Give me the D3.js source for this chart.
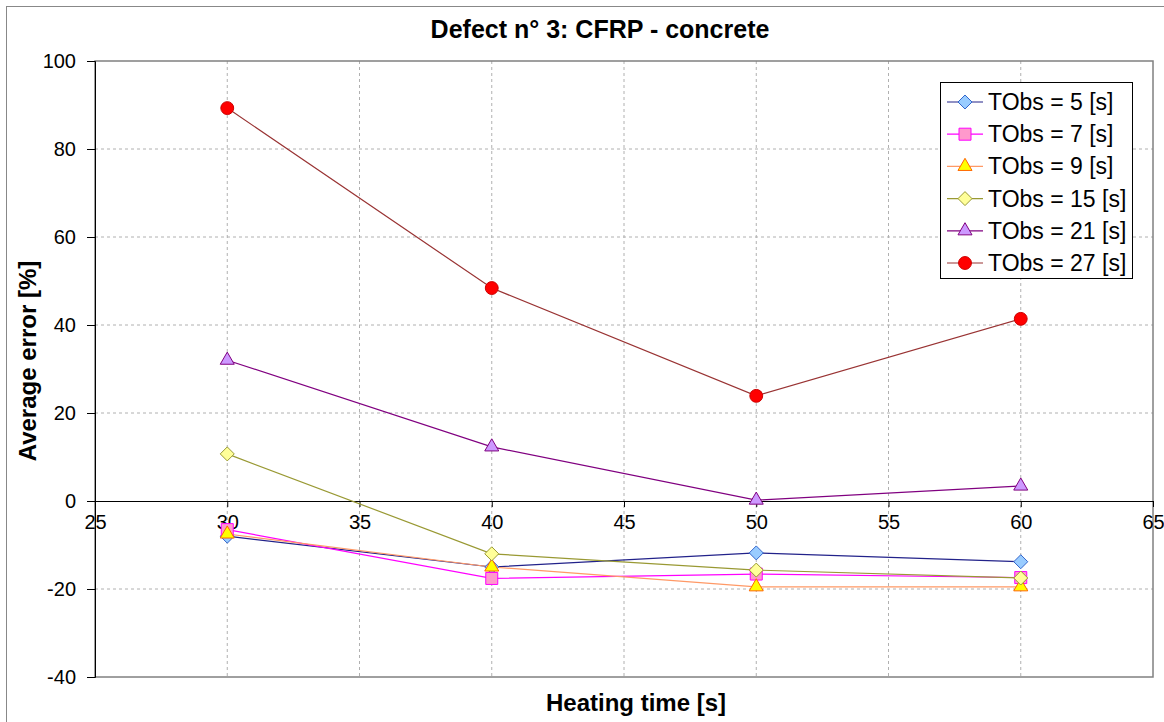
<!DOCTYPE html>
<html><head><meta charset="utf-8">
<script src="https://cdn.jsdelivr.net/npm/d3@7"></script>
<style>body{margin:0;background:#fff}svg{display:block;font-family:"Liberation Sans",Arial,sans-serif}</style>
</head><body>
<svg id="c" width="1164" height="722"></svg>
<script>
const heatingTimes = [30, 40, 50, 60];
const seriesNames = ["TObs = 5 [s]", "TObs = 7 [s]", "TObs = 9 [s]", "TObs = 15 [s]", "TObs = 21 [s]", "TObs = 27 [s]"];
const tobs5  = [-8.0, -15.0, -11.8, -13.8];
const tobs7  = [-6.5, -17.6, -16.6, -17.4];
const tobs9  = [-7.5, -15.0, -19.5, -19.5];
const tobs15 = [10.7, -12.0, -15.7, -17.5];
const tobs21 = [32.0, 12.3, 0.2, 3.4];
const tobs27 = [89.3, 48.4, 23.9, 41.4];
const xTicks = [25, 30, 35, 40, 45, 50, 55, 60, 65];
const yTicks = [-40, -20, 0, 20, 40, 60, 80, 100];

const squareDiamond = {
  draw(ctx, size) {
    const h = Math.sqrt(size / 2);
    ctx.moveTo(0, -h); ctx.lineTo(h, 0); ctx.lineTo(0, h); ctx.lineTo(-h, 0); ctx.closePath();
  }
};

const styles = [
  {line:"#22228a", fill:"#99ccff", stroke:"#3366cc", sym:squareDiamond, size:98},
  {line:"#ff00ff", fill:"#ff99cc", stroke:"#ff00ff", sym:d3.symbolSquare, size:144},
  {line:"#ff9966", fill:"#ffff00", stroke:"#ff6600", sym:d3.symbolTriangle, size:85},
  {line:"#999933", fill:"#ffff99", stroke:"#999933", sym:squareDiamond, size:98},
  {line:"#800080", fill:"#cc99ff", stroke:"#800080", sym:d3.symbolTriangle, size:85},
  {line:"#993333", fill:"#ff0000", stroke:"#cc0000", sym:d3.symbolCircle, size:130}
];
const allSeries = [tobs5, tobs7, tobs9, tobs15, tobs21, tobs27];

const svg = d3.select("#c");
const L = 95, R = 1153, T = 61, B = 677;
const x = d3.scaleLinear().domain([25, 65]).range([L, R]);
const y = d3.scaleLinear().domain([-40, 100]).range([B, T]);
const fmt = d => String(d);

// outer frame
svg.append("rect").attr("x",6.5).attr("y",6.5).attr("width",1170).attr("height",730)
  .attr("fill","none").attr("stroke","#888").attr("stroke-width",1);

// grid
svg.append("g").selectAll("line").data(xTicks.filter(d=>d>25&&d<65)).join("line")
  .attr("x1",d=>x(d)).attr("x2",d=>x(d)).attr("y1",T).attr("y2",B)
  .attr("stroke","#b0b0b0").attr("stroke-dasharray","3,3");
svg.append("g").selectAll("line").data(yTicks.filter(d=>d>-40&&d<100&&d!==0)).join("line")
  .attr("x1",L).attr("x2",R).attr("y1",d=>y(d)).attr("y2",d=>y(d))
  .attr("stroke","#b0b0b0").attr("stroke-dasharray","3,3");

// plot area border
svg.append("rect").attr("x",L).attr("y",T).attr("width",R-L).attr("height",B-T)
  .attr("fill","none").attr("stroke","#808080").attr("stroke-width",1.5);

// y axis
const yAxis = svg.append("g").attr("transform",`translate(${L},0)`)
  .call(d3.axisLeft(y).tickValues(yTicks).tickFormat(fmt).tickSize(8).tickPadding(11));
yAxis.select(".domain").attr("stroke","#000");
yAxis.selectAll("text").attr("font-size",20).attr("fill","#000");

// x axis at y=0
const xAxis = svg.append("g").attr("transform",`translate(0,${y(0)})`)
  .call(d3.axisBottom(x).tickValues(xTicks).tickFormat(fmt).tickSize(6).tickPadding(8).tickSizeOuter(0));
xAxis.select(".domain").attr("stroke","#000");
xAxis.selectAll("text").attr("font-size",20).attr("fill","#000");

// lines
const lineGen = d3.line().x((d,i)=>x(heatingTimes[i])).y(d=>y(d));
allSeries.forEach((s,k)=>{
  svg.append("path").attr("d",lineGen(s)).attr("fill","none")
    .attr("stroke",styles[k].line).attr("stroke-width",1.2);
});
allSeries.forEach((s,k)=>{
  const st = styles[k];
  svg.append("g").selectAll("path").data(s).join("path")
    .attr("transform",(d,i)=>`translate(${x(heatingTimes[i])},${y(d)})`)
    .attr("d",d3.symbol().type(st.sym).size(st.size))
    .attr("fill",st.fill).attr("stroke",st.stroke).attr("stroke-width",1);
});

// title & labels
svg.append("text").attr("x",600).attr("y",38).attr("text-anchor","middle")
  .attr("font-size",25).attr("font-weight","bold").text("Defect n° 3: CFRP - concrete");
svg.append("text").attr("x",636).attr("y",711).attr("text-anchor","middle")
  .attr("font-size",24).attr("font-weight","bold").text("Heating time [s]");
svg.append("text").attr("transform",`translate(36,361) rotate(-90)`).attr("text-anchor","middle")
  .attr("font-size",24).attr("font-weight","bold").text("Average error [%]");

// legend
const lg = svg.append("g");
lg.append("rect").attr("x",940.5).attr("y",82.5).attr("width",192).attr("height",196)
  .attr("fill","#fff").attr("stroke","#000").attr("stroke-width",1);
seriesNames.forEach((n,k)=>{
  const st = styles[k];
  const cy = 102 + k*32.2;
  lg.append("line").attr("x1",947).attr("x2",983).attr("y1",cy).attr("y2",cy)
    .attr("stroke",st.line).attr("stroke-width",1.2);
  lg.append("path").attr("transform",`translate(965,${cy})`)
    .attr("d",d3.symbol().type(st.sym).size(st.size))
    .attr("fill",st.fill).attr("stroke",st.stroke);
  lg.append("text").attr("x",988).attr("y",cy+8).attr("font-size",23).text(n);
});
</script>
</body></html>
